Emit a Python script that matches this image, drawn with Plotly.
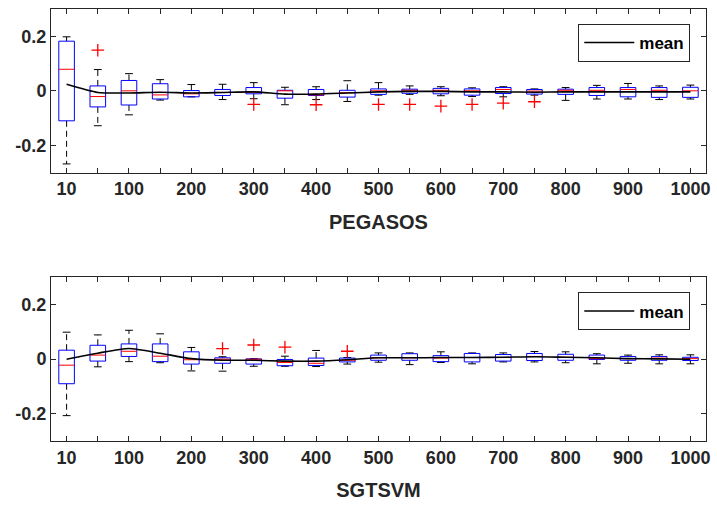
import plotly.graph_objects as go

categories = ["10", "50", "100", "150", "200", "250", "300", "350", "400", "450", "500",
              "550", "600", "650", "700", "750", "800", "850", "900", "950", "1000"]
shown_labels = ["10", "100", "200", "300", "400", "500", "600", "700", "800", "900", "1000"]

# PEGASOS
peg_hi = [0.198, 0.078, 0.063, 0.041, 0.023, 0.024, 0.030, 0.013, 0.015, 0.037, 0.030,
          0.018, 0.015, 0.011, 0.015, 0.007, 0.012, 0.020, 0.027, 0.018, 0.021]
peg_q3 = [0.182, 0.018, 0.038, 0.026, 0.001, 0.005, 0.012, 0.002, 0.005, 0.002, 0.007,
          0.006, 0.009, 0.007, 0.012, 0.005, 0.006, 0.012, 0.012, 0.012, 0.013]
peg_med = [0.079, -0.021, 0.000, -0.015, -0.011, -0.006, -0.005, 0.000, -0.015, -0.007, 0.000,
           0.002, 0.002, 0.000, 0.005, -0.001, 0.002, 0.002, 0.005, 0.002, 0.000]
peg_q1 = [-0.110, -0.059, -0.052, -0.030, -0.022, -0.017, -0.011, -0.027, -0.017, -0.023, -0.013,
          -0.009, -0.011, -0.016, -0.010, -0.012, -0.013, -0.017, -0.022, -0.024, -0.024]
peg_lo = [-0.268, -0.128, -0.088, -0.034, -0.022, -0.032, -0.029, -0.051, -0.032, -0.039, -0.016,
          -0.013, -0.018, -0.021, -0.022, -0.016, -0.035, -0.030, -0.030, -0.032, -0.030]
peg_mean = [0.024, -0.006, -0.008, -0.005, -0.008, -0.006, -0.004, -0.012, -0.012, -0.008, -0.004,
            -0.002, -0.002, -0.004, -0.004, -0.005, -0.004, -0.004, -0.004, -0.004, -0.004]
peg_out_cat = ["50", "300", "400", "500", "550", "600", "650", "700", "750"]
peg_out_val = [0.149, -0.050, -0.051, -0.050, -0.050, -0.056, -0.050, -0.045, -0.040]

# SGTSVM
sgt_hi = [0.099, 0.089, 0.106, 0.093, 0.043, 0.009, 0.002, 0.011, 0.032, 0.006, 0.023,
          0.023, 0.027, 0.023, 0.023, 0.028, 0.027, 0.020, 0.015, 0.016, 0.016]
sgt_q3 = [0.033, 0.051, 0.056, 0.056, 0.027, 0.005, 0.001, -0.001, 0.004, 0.004, 0.015,
          0.020, 0.013, 0.021, 0.017, 0.021, 0.018, 0.015, 0.010, 0.010, 0.007]
sgt_med = [-0.022, 0.015, 0.029, 0.011, -0.002, 0.000, 0.000, -0.012, -0.015, -0.004, 0.005,
           0.005, 0.004, 0.006, 0.006, 0.010, 0.007, 0.002, 0.002, 0.004, 0.002]
sgt_q1 = [-0.090, -0.007, 0.010, -0.009, -0.018, -0.015, -0.018, -0.024, -0.023, -0.010, -0.004,
          -0.004, -0.009, -0.010, -0.007, -0.005, -0.004, -0.001, -0.004, -0.004, -0.005]
sgt_lo = [-0.207, -0.028, -0.009, -0.013, -0.043, -0.044, -0.026, -0.026, -0.027, -0.018, -0.011,
          -0.020, -0.012, -0.017, -0.010, -0.010, -0.013, -0.017, -0.015, -0.017, -0.017]
sgt_mean = [0.000, 0.022, 0.039, 0.022, 0.002, -0.004, -0.004, -0.007, -0.007, -0.002, 0.005,
            0.005, 0.006, 0.006, 0.007, 0.009, 0.007, 0.005, 0.002, 0.001, 0.000]
sgt_out_cat = ["250", "300", "350", "450"]
sgt_out_val = [0.039, 0.052, 0.044, 0.029]

FONT = "Liberation Sans, Arial, sans-serif"
AX = "#262626"

fig = go.Figure()


def add_boxes(hi, q3, med, q1, lo, mean, out_cat, out_val, xa, ya, legend):
    pos = {c: i + 1 for i, c in enumerate(categories)}
    bw, cw = 0.25, 0.125
    bx, by, mx, my, wx, wy, cx, cy = [], [], [], [], [], [], [], []
    for c, h, a, m, b, l in zip(categories, hi, q3, med, q1, lo):
        p = pos[c]
        bx += [p - bw, p + bw, p + bw, p - bw, p - bw, None]
        by += [b, b, a, a, b, None]
        mx += [p - bw, p + bw, None]
        my += [m, m, None]
        wx += [p, p, None, p, p, None]
        wy += [a, h, None, b, l, None]
        cx += [p - cw, p + cw, None, p - cw, p + cw, None]
        cy += [h, h, None, l, l, None]
    common = dict(xaxis=xa, yaxis=ya, mode="lines", showlegend=False, hoverinfo="skip")
    fig.add_trace(go.Scatter(x=wx, y=wy, line=dict(color="black", width=1, dash="6px,4px"), **common))
    fig.add_trace(go.Scatter(x=cx, y=cy, line=dict(color="black", width=1), **common))
    fig.add_trace(go.Scatter(x=bx, y=by, line=dict(color="#0000FF", width=1), **common))
    fig.add_trace(go.Scatter(x=mx, y=my, line=dict(color="#FF0000", width=1), **common))
    fig.add_trace(go.Scatter(x=[pos[c] for c in out_cat], y=out_val, xaxis=xa, yaxis=ya,
                             mode="markers", showlegend=False,
                             marker=dict(symbol="cross-thin", size=9,
                                         line=dict(color="#FF0000", width=1.3))))
    fig.add_trace(go.Scatter(x=[pos[c] for c in categories], y=mean, xaxis=xa, yaxis=ya,
                             mode="lines", name="mean", legend=legend,
                             line=dict(color="black", width=1.6, shape="spline", smoothing=0.6)))


add_boxes(peg_hi, peg_q3, peg_med, peg_q1, peg_lo, peg_mean, peg_out_cat, peg_out_val, "x", "y", "legend")
add_boxes(sgt_hi, sgt_q3, sgt_med, sgt_q1, sgt_lo, sgt_mean, sgt_out_cat, sgt_out_val, "x2", "y2", "legend2")

tickvals = list(range(1, len(categories) + 1))
ticktext = [c if c in shown_labels else "" for c in categories]

xcommon = dict(range=[0.5, 21.5], tickvals=tickvals, ticktext=ticktext, ticks="inside",
               ticklen=5, tickcolor=AX, showline=True, linecolor=AX, linewidth=1, mirror="ticks",
               showgrid=False, zeroline=False,
               tickfont=dict(family=FONT, size=18, color=AX, weight="bold"),
               title=dict(font=dict(family=FONT, size=20, color=AX, weight="bold"), standoff=16))
ycommon = dict(range=[-0.3, 0.3], tickvals=[-0.2, 0, 0.2], ticktext=["-0.2", "0", "0.2"],
               ticks="inside", ticklen=5, tickcolor=AX, showline=True, linecolor=AX, linewidth=1,
               mirror="ticks", showgrid=False, zeroline=False,
               tickfont=dict(family=FONT, size=18, color=AX, weight="bold"))

legcommon = dict(xanchor="right", yanchor="top", bgcolor="white",
                 bordercolor=AX, borderwidth=1, itemwidth=50,
                 font=dict(family=FONT, size=17, color="black", weight="bold"))

fig.update_layout(
    width=717, height=505,
    margin=dict(l=51, r=7, t=9, b=63),
    plot_bgcolor="white", paper_bgcolor="white",
    font=dict(family=FONT, color=AX),
    xaxis=dict(domain=[0, 1], anchor="y", title_text="PEGASOS", **xcommon),
    yaxis=dict(domain=[0.6212, 1], anchor="x", **ycommon),
    xaxis2=dict(domain=[0, 1], anchor="y2", title_text="SGTSVM", **xcommon),
    yaxis2=dict(domain=[0, 0.3788], anchor="x2", **ycommon),
    legend=dict(x=0.976, y=0.9654, **legcommon),
    legend2=dict(x=0.976, y=0.344, **legcommon),
)

fig.write_html("out.html")
